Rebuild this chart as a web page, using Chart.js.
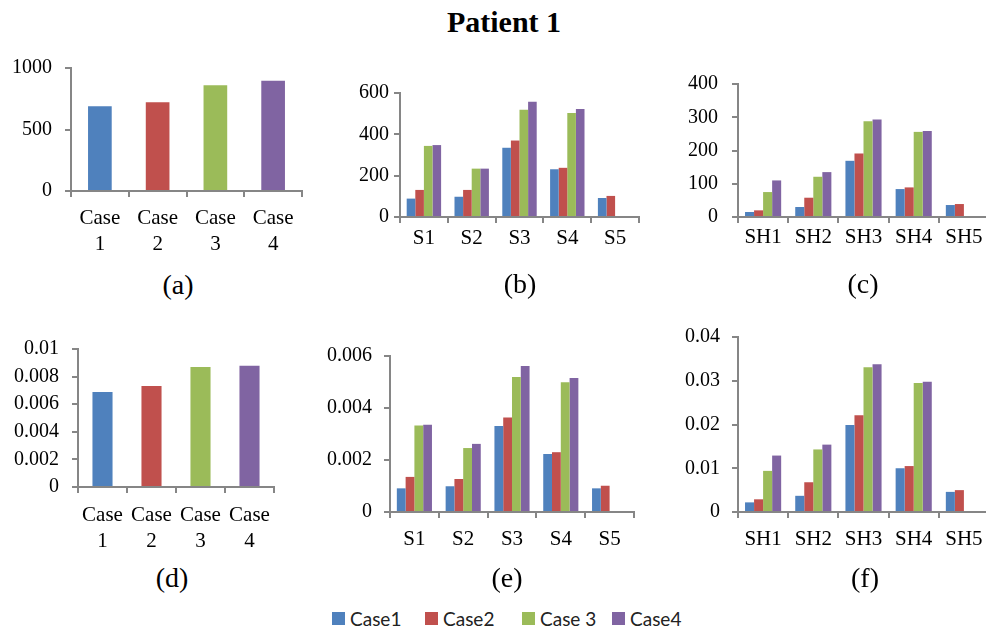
<!DOCTYPE html>
<html>
<head>
<meta charset="utf-8">
<title>Patient 1</title>
<script src="https://cdn.jsdelivr.net/npm/chart.js@4/dist/chart.umd.min.js"></script>
<style>
  html, body { margin: 0; padding: 0; background: #fff; }
  body { position: relative; width: 986px; height: 629px; overflow: hidden; }
  canvas { position: absolute; }
  .txt { position: absolute; font-family: 'Liberation Serif', 'Times New Roman', serif; color: #000;
         white-space: nowrap; transform: translate(-50%, -50%); line-height: 1; }
  .sub { font-size: 28px; }
  .leg { position: absolute; top: 611px; height: 14px; display: flex; align-items: center;
         font-family: Lato, 'Open Sans', sans-serif; font-size: 19px; color: #222; white-space: nowrap; }
  .leg i { display: inline-block; width: 13px; height: 13px; margin-right: 5px; }
</style>
</head>
<body>
<div class="txt" style="left:504px;top:22px;font-size:30px;font-weight:bold;">Patient 1</div>

<canvas id="pa"></canvas>
<canvas id="pb"></canvas>
<canvas id="pc"></canvas>
<canvas id="pd"></canvas>
<canvas id="pe"></canvas>
<canvas id="pf"></canvas>

<div class="txt sub" style="left:178px;top:285px;">(a)</div>
<div class="txt sub" style="left:520px;top:284px;">(b)</div>
<div class="txt sub" style="left:863px;top:284px;">(c)</div>
<div class="txt sub" style="left:172px;top:578px;">(d)</div>
<div class="txt sub" style="left:507px;top:578px;">(e)</div>
<div class="txt sub" style="left:865px;top:578px;">(f)</div>

<div id="legend"></div>

<script>
// ---- data ----
const caseNames = ['Case1', 'Case2', 'Case 3', 'Case4'];
const caseTicks = [['Case', '1'], ['Case', '2'], ['Case', '3'], ['Case', '4']];
const sLabels = ['S1', 'S2', 'S3', 'S4', 'S5'];
const shLabels = ['SH1', 'SH2', 'SH3', 'SH4', 'SH5'];

// (a) totals per case
const totalA = [689, 721, 859, 897];
// (b) per segment S1..S5
const bCase1 = [89, 98, 335, 231, 92];
const bCase2 = [131, 131, 370, 238, 102];
const bCase3 = [344, 234, 519, 503, null];
const bCase4 = [348, 234, 558, 522, null];
// (c) per segment SH1..SH5
const cCase1 = [15, 30, 169, 84, 36];
const cCase2 = [20, 58, 191, 89, 39];
const cCase3 = [75, 121, 288, 256, null];
const cCase4 = [110, 135, 293, 259, null];
// (d) totals per case
const totalD = [0.00688, 0.00731, 0.00869, 0.00879];
// (e) per segment S1..S5
const eCase1 = [0.00091, 0.00099, 0.00331, 0.00223, 0.00091];
const eCase2 = [0.00135, 0.00127, 0.00363, 0.00230, 0.00101];
const eCase3 = [0.00333, 0.00246, 0.00519, 0.00499, null];
const eCase4 = [0.00336, 0.00262, 0.00562, 0.00515, null];
// (f) per segment SH1..SH5
const fCase1 = [0.0022, 0.0037, 0.0199, 0.0100, 0.0046];
const fCase2 = [0.0029, 0.0068, 0.0221, 0.0105, 0.0050];
const fCase3 = [0.0094, 0.0143, 0.0331, 0.0295, null];
const fCase4 = [0.0129, 0.0154, 0.0338, 0.0298, null];

// ---- styling ----
const caseColors = ['#4F81BD', '#C0504D', '#9BBB59', '#8064A2'];
const AXIS = '#868686';
const SERIF = "'Liberation Serif', 'Times New Roman', serif";
// fixed y-axis width, x-axis height and paddings so each plot area lands where it should
const AXIS_W = 80, X_H = 72, PAD_T = 34, PAD_R = 12;

function fmt(v) { return String(+(+v).toFixed(6)); }

function grouped(series) {
  return series.map((d, i) => ({
    label: caseNames[i], data: d, backgroundColor: caseColors[i], borderWidth: 0,
    categoryPercentage: 0.72, barPercentage: 1
  }));
}
function single(values) {
  return [{ label: 'Total', data: values, backgroundColor: caseColors, borderWidth: 0,
            categoryPercentage: 1, barPercentage: 0.41 }];
}

// box = plot area in page pixels; the canvas is placed around it
function panel(id, box, labels, datasets, yMax, yStep, yPad, xPad) {
  const cv = document.getElementById(id);
  const w = Math.round(AXIS_W + (box.right - box.left) + PAD_R);
  const h = Math.round(PAD_T + (box.bottom - box.top) + X_H);
  cv.width = w; cv.height = h;
  cv.style.width = w + 'px'; cv.style.height = h + 'px';
  cv.style.left = (box.left - AXIS_W) + 'px';
  cv.style.top = (box.top - PAD_T) + 'px';
  new Chart(cv, {
    type: 'bar',
    data: { labels: labels, datasets: datasets },
    options: {
      responsive: false, animation: false, devicePixelRatio: 1,
      layout: { padding: { top: PAD_T, right: PAD_R, left: 0, bottom: 0 } },
      plugins: { legend: { display: false }, tooltip: { enabled: false } },
      scales: {
        x: {
          offset: true,
          grid: { display: true, offset: true, drawOnChartArea: false, drawTicks: true,
                  tickLength: 6, color: AXIS, lineWidth: 2 },
          border: { display: true, color: AXIS, width: 2 },
          ticks: { color: '#000', font: { family: SERIF, size: 21, lineHeight: 1.25 },
                   padding: xPad, maxRotation: 0, minRotation: 0, autoSkip: false },
          afterFit: s => { s.height = X_H; }
        },
        y: {
          min: 0, max: yMax,
          grid: { display: true, drawOnChartArea: false, drawTicks: true,
                  tickLength: 6, color: AXIS, lineWidth: 2 },
          border: { display: true, color: AXIS, width: 2 },
          ticks: { stepSize: yStep, color: '#000', font: { family: SERIF, size: 20 },
                   padding: yPad, autoSkip: false, callback: v => fmt(v) },
          afterFit: s => { s.width = AXIS_W; }
        }
      }
    }
  });
}

panel('pa', { left: 71, right: 302, top: 68.3, bottom: 191.7 }, caseTicks, single(totalA), 1000, 500, 13, 8.5);
panel('pb', { left: 400, right: 639.3, top: 93.3, bottom: 217 }, sLabels,
      grouped([bCase1, bCase2, bCase3, bCase4]), 600, 200, 5, 2.5);
panel('pc', { left: 738.3, right: 989.6, top: 84.3, bottom: 217 }, shLabels,
      grouped([cCase1, cCase2, cCase3, cCase4]), 400, 100, 14, 1.5);
panel('pd', { left: 77.7, right: 274, top: 349, bottom: 486.7 }, caseTicks, single(totalD), 0.01, 0.002, 13, 9);
panel('pe', { left: 390, right: 634.3, top: 356, bottom: 512 }, sLabels,
      grouped([eCase1, eCase2, eCase3, eCase4]), 0.006, 0.002, 12, 8.5);
panel('pf', { left: 738.3, right: 989.6, top: 336.7, bottom: 512 }, shLabels,
      grouped([fCase1, fCase2, fCase3, fCase4]), 0.04, 0.01, 12, 8.5);

// shared legend
const legendX = [332, 425, 522, 612];
const legend = document.getElementById('legend');
caseNames.forEach((name, i) => {
  const item = document.createElement('div');
  item.className = 'leg';
  item.style.left = legendX[i] + 'px';
  const sw = document.createElement('i');
  sw.style.background = caseColors[i];
  item.appendChild(sw);
  item.appendChild(document.createTextNode(name));
  legend.appendChild(item);
});
</script>
</body>
</html>
